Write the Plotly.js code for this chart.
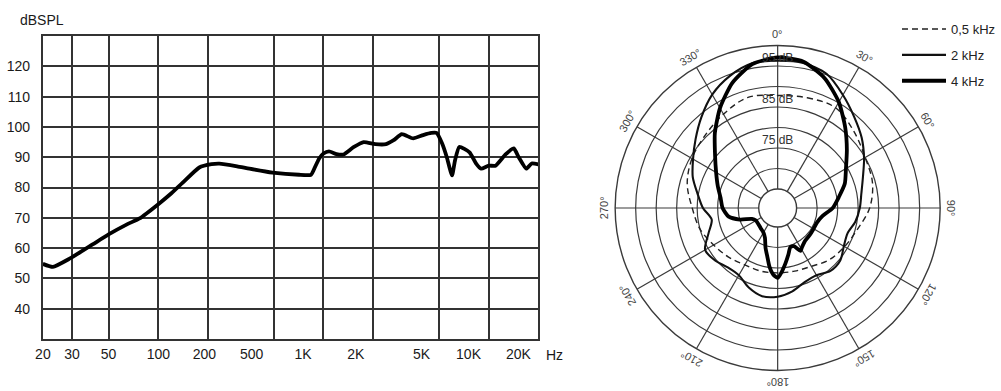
<!DOCTYPE html>
<html>
<head>
<meta charset="utf-8">
<script src="https://cdn.plot.ly/plotly-3.0.1.min.js"></script>
<style>
  html, body { margin: 0; padding: 0; background: #fff; }
  #chart { width: 1001px; height: 391px; }
</style>
</head>
<body>
<div id="chart"></div>
<script>
// Frequency response (on-axis)
const freqHz = [20, 23, 29, 40, 50, 65, 77, 100, 120, 140, 177, 210, 234, 300, 356, 491, 711, 840, 876, 940,
  1000, 1080, 1200, 1320, 1520, 1750, 2060, 2390, 2660, 2980, 3490, 4010, 4500, 4830, 5220, 5580, 6000, 6260,
  6640, 7660, 8400, 9000, 10000, 11000, 12700, 14200, 15200, 16900, 18200, 20000];
const splDb = [54.8, 53.8, 56.5, 61.2, 64.5, 67.9, 69.8, 74.5, 78.1, 81.5, 86.6, 87.7, 87.9, 87.0, 86.2, 84.9, 84.2, 84.2, 86.0, 89.5,
  91.2, 91.9, 91.0, 90.9, 93.3, 95.0, 94.3, 94.3, 95.6, 97.6, 96.2, 97.3, 98.0, 98.0, 94.6, 90.0, 84.0, 89.0,
  93.4, 91.6, 87.9, 86.2, 87.2, 87.2, 91.0, 92.9, 90.0, 86.2, 87.9, 87.6];
// grid decades and the frequencies under each printed label
const freqGrid = [20, 30, 50, 100, 200, 500, 1000, 2000, 5000, 10000, 20000];
const freqLabelAt = [20, 30, 50, 100, 190, 367, 752, 1571, 3929, 7551, 15124];
const freqTickText = ['20', '30', '50', '100', '200', '500', '1K', '2K', '5K', '10K', '20K'];
const splGrid = [40, 50, 60, 70, 80, 90, 100, 110, 120, 130];
const splTickText = ['40', '50', '60', '70', '80', '90', '100', '110', '120', ''];

// Polar patterns (dB)
const angle05 = [0, 15, 30, 45, 60, 75, 90, 105, 120, 135, 150, 165, 180, 195, 210, 225, 240, 255, 270, 285, 300, 315, 330, 345, 360];
const level05 = [87.8, 88.2, 88.6, 86.7, 85.0, 84.3, 82.8, 80.5, 79.2, 78.2, 76.8, 76.3, 76.2, 76.3, 76.4, 77.3, 78.4, 80.0, 81.2, 83.2, 84.5, 85.4, 86.8, 88.3, 87.8];

const angle2k = [0, 10, 20, 30, 40, 50, 60, 70, 80, 90, 100, 110, 120, 130, 140, 150, 160, 170, 180, 190, 200, 210, 220, 230, 240, 250, 260, 270, 280, 290, 300, 310, 320, 330, 340, 350, 360];
const level2k = [96.3, 96.3, 95.2, 92.2, 89.4, 87.1, 84.7, 82.5, 81.1, 80.4, 79.6, 78.5, 79.0, 80.3, 80.4, 79.3, 79.6, 81.0, 82.0, 82.2, 81.0, 79.3, 79.3, 80.3, 80.8, 78.3, 76.7, 78.6, 80.2, 82.4, 84.2, 86.5, 89.3, 92.3, 94.6, 96.2, 96.3];

const angle4k = [0, 10, 20, 30, 40, 50, 60, 70, 80, 90, 100, 110, 120, 130, 140, 148, 152, 157, 162, 167, 172, 176, 180, 184, 188, 192, 197, 203, 210, 220, 230, 240, 247, 253, 260, 270, 280, 290, 300, 310, 320, 330, 340, 350, 360];
const level4k = [97.1, 96.6, 94.0, 90.2, 86.0, 82.4, 79.6, 77.8, 75.5, 73.8, 71.5, 70.6, 70.5, 70.6, 70.8, 71.6, 72.2, 70.5, 70.4, 72.0, 74.0, 75.8, 77.4, 76.6, 74.8, 72.5, 70.5, 68.3, 67.3, 66.8, 66.5, 66.5, 67.2, 70.0, 72.5, 73.8, 74.5, 75.9, 77.7, 80.3, 84.2, 88.5, 92.8, 96.0, 97.1];

const seriesNames = ['0,5 kHz', '2 kHz', '4 kHz'];
const ringLabels = ['95 dB', '85 dB', '75 dB'];
const ringLabelLevels = [96.6, 86.6, 76.6];
const ringLevels = [65, 70, 75, 80, 85, 90, 95];
const angleLabels = [0, 30, 60, 90, 120, 150, 180, 210, 240, 270, 300, 330];

const W = 1001, H = 391;
const ink = '#1a1a1a';
const grid = '#333';
const FONT = 'Liberation Sans, Arial, sans-serif';

// polar frame in pixels
const pcx = 780, pcy = 208, pr = 163;

const traces = [
  {
    type: 'scatter', x: freqHz, y: splDb, mode: 'lines',
    line: { color: '#000', width: 3.8, shape: 'spline', smoothing: 0.5 },
    showlegend: false, hoverinfo: 'skip', xaxis: 'x', yaxis: 'y'
  },
  {
    type: 'scatterpolar', theta: angle05, r: level05, mode: 'lines', name: seriesNames[0],
    line: { color: '#222', width: 1.4, dash: '6px,4px', shape: 'spline', smoothing: 1 },
    subplot: 'polar', legendgroup: 'a'
  },
  {
    type: 'scatterpolar', theta: angle2k, r: level2k, mode: 'lines', name: seriesNames[1],
    line: { color: '#111', width: 2.1, shape: 'spline', smoothing: 0.8 },
    subplot: 'polar', legendgroup: 'b'
  },
  {
    type: 'scatterpolar', theta: angle4k, r: level4k, mode: 'lines', name: seriesNames[2],
    line: { color: '#000', width: 3.8, shape: 'spline', smoothing: 0.6 },
    subplot: 'polar', legendgroup: 'c'
  },
  {
    type: 'scatterpolar', theta: ringLabels.map(() => 0), r: ringLabelLevels, mode: 'text',
    text: ringLabels, textposition: 'middle center',
    textfont: { family: FONT, size: 12, color: '#333' },
    subplot: 'polar', showlegend: false, hoverinfo: 'skip'
  }
];

const annotations = [
  {
    text: 'dBSPL', xref: 'paper', yref: 'paper', x: 18 / W, y: 1 - 20 / H,
    xanchor: 'left', yanchor: 'middle', showarrow: false,
    font: { family: FONT, size: 14, color: ink }
  },
  {
    text: 'Hz', xref: 'paper', yref: 'paper', x: 546 / W, y: 1 - 355 / H,
    xanchor: 'left', yanchor: 'middle', showarrow: false,
    font: { family: FONT, size: 14, color: ink }
  }
];

angleLabels.forEach(a => {
  const rad = a * Math.PI / 180;
  const lr = pr + 11;
  annotations.push({
    text: a + '°', xref: 'paper', yref: 'paper',
    x: (pcx + lr * Math.sin(rad)) / W,
    y: 1 - (pcy - lr * Math.cos(rad)) / H,
    xanchor: 'center', yanchor: 'middle', showarrow: false,
    textangle: a > 180 ? a - 360 : a,
    font: { family: FONT, size: 11, color: '#444' }
  });
});

const logRange = [Math.log10(20), Math.log10(20000)];

const layout = {
  width: W, height: H,
  margin: { l: 0, r: 0, t: 0, b: 0 },
  paper_bgcolor: '#fff', plot_bgcolor: '#fff',
  showlegend: true,
  font: { family: FONT, color: ink },
  xaxis: {
    type: 'log', domain: [43 / W, 540 / W], range: logRange,
    tickmode: 'array', tickvals: freqGrid, showticklabels: false,
    showgrid: true, gridcolor: grid, gridwidth: 2,
    showline: true, linecolor: grid, linewidth: 2, mirror: true,
    ticks: '', zeroline: false, anchor: 'y'
  },
  xaxis2: {
    type: 'log', domain: [43 / W, 540 / W], range: logRange,
    overlaying: 'x', side: 'bottom', anchor: 'y',
    tickmode: 'array', tickvals: freqLabelAt, ticktext: freqTickText,
    showgrid: false, showline: false, zeroline: false, ticks: '',
    ticklabelstandoff: 5,
    tickfont: { size: 14, color: ink }
  },
  yaxis: {
    domain: [1 - 339 / H, 1 - 36 / H],
    range: [30, 130],
    tickmode: 'array', tickvals: splGrid, ticktext: splTickText,
    showgrid: true, gridcolor: grid, gridwidth: 2,
    showline: true, linecolor: grid, linewidth: 2, mirror: true,
    ticks: '', ticklabelstandoff: 8, zeroline: false,
    tickfont: { size: 14, color: ink }, anchor: 'x'
  },
  polar: {
    domain: { x: [(pcx - pr) / W, (pcx + pr) / W], y: [1 - (pcy + pr) / H, 1 - (pcy - pr) / H] },
    bgcolor: '#fff',
    hole: 19 / pr,
    radialaxis: {
      range: [64.99, 100],
      tickmode: 'array', tickvals: ringLevels,
      showticklabels: false, ticks: '', showline: false,
      showgrid: true, gridcolor: '#3a3a3a', gridwidth: 1.2
    },
    angularaxis: {
      rotation: 90, direction: 'clockwise',
      tickmode: 'linear', tick0: 0, dtick: 30,
      showticklabels: false, ticks: '',
      showline: true, linecolor: '#3a3a3a', linewidth: 1.4,
      showgrid: true, gridcolor: '#3a3a3a', gridwidth: 1.2
    }
  },
  legend: {
    x: 900 / W, y: 1 - 14 / H, xanchor: 'left', yanchor: 'top',
    bgcolor: 'rgba(255,255,255,0)', borderwidth: 0,
    tracegroupgap: 6, itemwidth: 44, itemclick: false, itemdoubleclick: false,
    font: { family: 'Liberation Sans Narrow, Liberation Sans, Arial, sans-serif', size: 13, color: '#222' }
  },
  annotations: annotations
};

const dummyForAxis2 = {
  type: 'scatter', x: [freqHz[0]], y: [splDb[0]], mode: 'none',
  xaxis: 'x2', yaxis: 'y', showlegend: false, hoverinfo: 'skip'
};

Plotly.newPlot('chart', traces.concat([dummyForAxis2]), layout, { displayModeBar: false, staticPlot: true });
</script>
</body>
</html>
